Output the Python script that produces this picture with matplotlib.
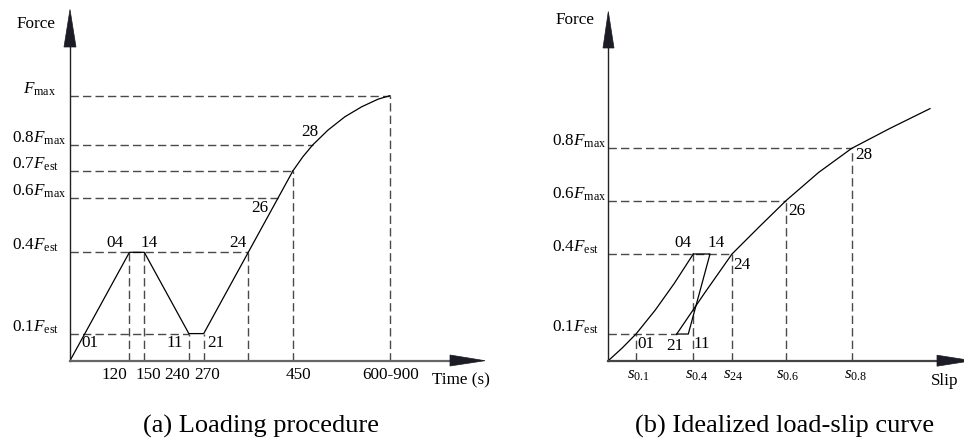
import matplotlib
matplotlib.use('Agg')
import matplotlib.pyplot as plt
from matplotlib.patches import Polygon

plt.rcParams['font.family'] = ['Liberation Serif', 'DejaVu Serif']
plt.rcParams['mathtext.fontset'] = 'custom'
plt.rcParams['mathtext.rm'] = 'Liberation Serif'
plt.rcParams['mathtext.it'] = 'Liberation Serif:italic'
plt.rcParams['mathtext.bf'] = 'Liberation Serif:bold'
plt.rcParams['lines.scale_dashes'] = False

# ---------------- (a) Loading procedure ----------------
time_path = [0, 120, 150, 240, 270, 360, 450]
force_path = [0, 0.4, 0.4, 0.1, 0.1, 0.4, 0.7]
time_curve = [450, 470, 490, 521, 555, 589, 622, 646]
force_curve = [0.70, 0.752, 0.796, 0.851, 0.900, 0.937, 0.965, 0.978]
time_ticks = [120, 150, 240, 270, 450, 646]
time_tick_labels = ['120', '150', '240', '270', '450', '600-900']
a_levels = [0.1, 0.4, 0.6015, 0.7, 0.796, 0.978]
a_level_ends = [240, 360, 420, 450, 490, 646]
a_level_labels = [r'0.1$F_{\rm est}$', r'0.4$F_{\rm est}$', r'0.6$F_{\rm max}$',
                  r'0.7$F_{\rm est}$', r'0.8$F_{\rm max}$', r'$F_{\rm max}$']
a_vert_time = [120, 150, 240, 270, 360, 450, 646]
a_vert_top = [0.4, 0.4, 0.1, 0.1, 0.4, 0.7, 0.978]
a_point_time = [30, 120, 150, 240, 270, 360, 420, 490]
a_point_force = [0.1, 0.4, 0.4, 0.1, 0.1, 0.4, 0.6015, 0.796]
a_point_labels = ['01', '04', '14', '11', '21', '24', '26', '28']

# ---------------- (b) Idealized load-slip curve ----------------
slip_load = [0, 0.14, 0.277, 0.47, 0.66, 0.85]
force_load = [0, 0.048, 0.1, 0.19, 0.29, 0.4]
slip_cycle = [0.85, 1.017, 0.80, 0.684]
force_cycle = [0.4, 0.4, 0.1, 0.1]
slip_reload = [0.684, 0.96, 1.237, 1.507, 1.777, 2.104, 2.434, 2.817, 3.217]
force_reload = [0.1, 0.252, 0.4, 0.501, 0.6, 0.706, 0.796, 0.871, 0.945]
slip_ticks = [0.277, 0.85, 1.237, 1.777, 2.434]
slip_tick_labels = [r'$s_{0.1}$', r'$s_{0.4}$', r'$s_{24}$', r'$s_{0.6}$', r'$s_{0.8}$']
b_levels = [0.1, 0.4, 0.6, 0.796]
b_level_ends = [0.684, 1.237, 1.777, 2.434]
b_level_labels = [r'0.1$F_{\rm est}$', r'0.4$F_{\rm est}$', r'0.6$F_{\rm max}$', r'0.8$F_{\rm max}$']
b_vert_slip = [0.277, 0.85, 1.237, 1.777, 2.434]
b_vert_top = [0.1, 0.4, 0.4, 0.6, 0.796]
b_point_slip = [0.277, 0.85, 1.017, 0.80, 0.684, 1.237, 1.777, 2.434]
b_point_force = [0.1, 0.4, 0.4, 0.1, 0.1, 0.4, 0.6, 0.796]
b_point_labels = ['01', '04', '14', '11', '21', '24', '26', '28']

W, H = 964, 440
fig = plt.figure(figsize=(W / 100, H / 100), dpi=100)
fig.patch.set_facecolor('white')


def fp(px, py):
    return (px / W, (H - py) / H)


def make_axes(x0, y0, x1, y1):
    l, b = fp(x0, y0)
    r, t = fp(x1, y1)
    ax = fig.add_axes([l, b, r - l, t - b])
    ax.set_facecolor('none')
    for s in ['top', 'right']:
        ax.spines[s].set_visible(False)
    ax.spines['left'].set_color('#222222')
    ax.spines['left'].set_linewidth(1.0)
    ax.spines['bottom'].set_color('#666666')
    ax.spines['bottom'].set_linewidth(1.6)
    ax.set_xticks([])
    ax.set_yticks([])
    return ax


def arrow(tip, b1, b2):
    poly = Polygon([fp(*tip), fp(*b1), fp(*b2)], closed=True,
                   transform=fig.transFigure, facecolor='#1c1c26',
                   edgecolor='#1c1c26', lw=0.5)
    fig.patches.append(poly)


DASH = dict(color='#4a4a4a', lw=1.0, dashes=(6.0, 3.0))
SOLID = dict(color='black', lw=0.9)
FS = 12.3

# ---------- panel (a) ----------
axa = make_axes(70, 360.7, 452, 47)
axa.set_xlim(0, (452 - 70) / 0.4952)
axa.set_ylim(0, (360.7 - 47) / 271)

for lv, end in zip(a_levels, a_level_ends):
    axa.plot([0, end], [lv, lv], **DASH)
for t, top in zip(a_vert_time, a_vert_top):
    axa.plot([t, t], [0, top], **DASH)
axa.plot(time_path, force_path, **SOLID)
axa.plot(time_curve, force_curve, **SOLID)

a_tick_dx = [-15.4, 4.2, -12.1, 3.8, 5.2, 1.1]
for t, lab, dx in zip(time_ticks, time_tick_labels, a_tick_dx):
    axa.annotate(lab, xy=(t, 0), xytext=(dx, -14.5), textcoords='offset pixels',
                 ha='center', va='center', fontsize=FS)

for lv, lab in zip(a_levels, a_level_labels):
    dx = -47.3 if lab == r'$F_{\rm max}$' else -58
    axa.annotate(lab, xy=(0, lv), xytext=(dx, 2.5), textcoords='offset pixels',
                 ha='left', va='baseline', fontsize=FS)

a_pt_off = [(5.2, -9.7), (-14, 9.6), (4.5, 9.6), (-13.5, -9.7), (11.7, -9.7),
            (-10, 9.6), (-18.5, -10), (-2.6, 13.3)]
for t, f, lab, off in zip(a_point_time, a_point_force, a_point_labels, a_pt_off):
    axa.annotate(lab, xy=(t, f), xytext=off, textcoords='offset pixels',
                 ha='center', va='center', fontsize=FS)

fig.text(*fp(36, 24), 'Force', ha='center', va='center', fontsize=FS)
fig.text(*fp(432, 380), 'Time (s)', ha='left', va='center', fontsize=FS)
fig.text(*fp(261, 433), '(a) Loading procedure', ha='center', va='baseline', fontsize=19)
arrow((70, 9.5), (64, 47), (76, 47))
arrow((485, 360.7), (450, 355), (450, 366))

# ---------- panel (b) ----------
axb = make_axes(608.3, 360.7, 937, 48)
axb.spines['bottom'].set_color('#444444')
axb.set_xlim(0, (937 - 608.3) / 100)
axb.set_ylim(0, (360.7 - 48) / 266.75)

for lv, end in zip(b_levels, b_level_ends):
    axb.plot([0, end], [lv, lv], **DASH)
for s, top in zip(b_vert_slip, b_vert_top):
    axb.plot([s, s], [0, top], **DASH)
axb.plot(slip_load, force_load, **SOLID)
axb.plot(slip_cycle, force_cycle, **SOLID)
axb.plot(slip_reload, force_reload, **SOLID)

b_tick_dx = [2, 3.4, 1, 2, 3.8]
for s, lab, dx in zip(slip_ticks, slip_tick_labels, b_tick_dx):
    axb.annotate(lab, xy=(s, 0), xytext=(dx, -14), textcoords='offset pixels',
                 ha='center', va='center', fontsize=FS)

for lv, lab in zip(b_levels, b_level_labels):
    axb.annotate(lab, xy=(0, lv), xytext=(-56.6, 2.5), textcoords='offset pixels',
                 ha='left', va='baseline', fontsize=FS)

b_pt_off = [(10, -10), (-10, 11.3), (6.5, 11.3), (14, -10), (-2, -11.7),
            (9.5, -11), (10.5, -10), (12, -6.7)]
for s, f, lab, off in zip(b_point_slip, b_point_force, b_point_labels, b_pt_off):
    axb.annotate(lab, xy=(s, f), xytext=off, textcoords='offset pixels',
                 ha='center', va='center', fontsize=FS)

fig.text(*fp(575.5, 20), 'Force', ha='center', va='center', fontsize=FS)
fig.text(*fp(945, 380.7), 'Slip', ha='center', va='center', fontsize=FS)
fig.text(*fp(785, 433), '(b) Idealized load-slip curve', ha='center', va='baseline', fontsize=19)
arrow((608.3, 11.5), (603, 48), (614, 48))
arrow((972, 360.7), (937, 355.2), (937, 366.2))

fig.savefig('out.png', dpi=100, facecolor='white')
